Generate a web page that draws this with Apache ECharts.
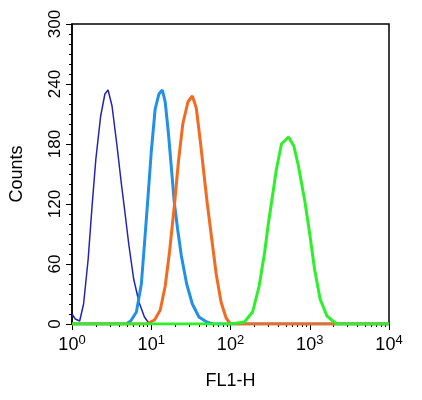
<!DOCTYPE html>
<html>
<head>
<meta charset="UTF-8">
<style>
    html, body { margin: 0; background: #fff; }
    #chartArea { width: 422px; height: 400px; }
</style>
</head>
<body>
<div id="chartArea"></div>
<script src="https://cdn.jsdelivr.net/npm/echarts@6/dist/echarts.min.js"></script>
<script>
// histogram curves: [FL1-H, counts]
var darkBlue = [[1,10],[1.1,5],[1.25,3],[1.4,20],[1.6,65],[1.8,120],[2.0,165],[2.3,208],[2.6,230],[2.85,234],[3.2,218],[3.7,178],[4.2,140],[4.6,115],[5.2,80],[6.0,45],[7.0,22],[8.2,7],[9.5,0],[10000,0]];
var lightBlue = [[1,0],[4.8,0],[5.5,3],[6.5,12],[7.5,40],[8.3,85],[9,122],[10,172],[11.2,215],[12.5,230],[13.8,234],[15,222],[16.5,190],[18,155],[19.5,122],[21.5,95],[24,68],[28,40],[33,20],[40,7],[50,2],[60,0],[10000,0]];
var orange = [[1,0],[8.7,0],[11,4],[13,14],[15,38],[17,72],[19.5,117],[22,162],[25,200],[29,222],[33,228],[37,216],[42,180],[47,145],[51,120],[58,85],[66,50],[76,22],[88,6],[100,0],[10000,0]];
var green = [[1,0],[100,0],[150,2],[190,12],[230,38],[270,72],[300,100],[330,122],[380,155],[440,180],[540,187],[630,178],[720,158],[800,138],[870,122],[1000,90],[1150,55],[1350,25],[1650,8],[2100,1],[2300,0],[10000,0]];
var yTicks = [0, 60, 120, 180, 240, 300];

var myChart = echarts.init(document.getElementById('chartArea'));
var font = 'Liberation Sans';
myChart.setOption({
    animation: false,
    grid: { left: 72, right: 33, top: 24, bottom: 76, show: true, borderColor: '#000', borderWidth: 1.5 },
    xAxis: {
        type: 'log', logBase: 10, min: 1, max: 10000,
        name: 'FL1-H', nameLocation: 'middle', nameGap: 48,
        nameTextStyle: { fontFamily: font, fontSize: 18, color: '#000' },
        axisLine: { lineStyle: { color: '#000', width: 1.5 } },
        axisTick: { inside: false, length: 6, lineStyle: { color: '#000' } },
        minorTick: { show: true, splitNumber: 9, length: 3, lineStyle: { color: '#000' } },
        splitLine: { show: false },
        axisLabel: {
            fontFamily: font, color: '#000', margin: 10,
            formatter: function (v) { return '{b|10}{s|' + Math.round(Math.log10(v)) + '}'; },
            rich: { b: { fontSize: 18, fontFamily: font, color: '#000' }, s: { fontSize: 13, fontFamily: font, color: '#000', verticalAlign: 'top', padding: [0, 0, 10, 0] } }
        }
    },
    yAxis: {
        type: 'value', min: 0, max: 300, interval: 60,
        name: 'Counts', nameLocation: 'middle', nameGap: 46,
        nameTextStyle: { fontFamily: font, fontSize: 18, color: '#000' },
        axisLine: { show: true, lineStyle: { color: '#000', width: 1.5 } },
        axisTick: { show: true, length: 6, lineStyle: { color: '#000' } },
        minorTick: { show: true, splitNumber: 6, length: 3, lineStyle: { color: '#000' } },
        splitLine: { show: false },
        axisLabel: {
            rotate: 90, fontFamily: font, fontSize: 17, color: '#000', margin: 8,
            formatter: function (v) { return yTicks.indexOf(v) >= 0 ? String(v) : ''; }
        }
    },
    series: [
        { type: 'line', data: darkBlue, showSymbol: false, lineStyle: { color: '#2424b4', width: 1.5 } },
        { type: 'line', data: lightBlue, showSymbol: false, lineStyle: { color: '#2190e6', width: 3 } },
        { type: 'line', data: orange, showSymbol: false, lineStyle: { color: '#f26b21', width: 3 } },
        { type: 'line', data: green, showSymbol: false, lineStyle: { color: '#2ef02a', width: 3 } }
    ]
});
</script>
</body>
</html>
